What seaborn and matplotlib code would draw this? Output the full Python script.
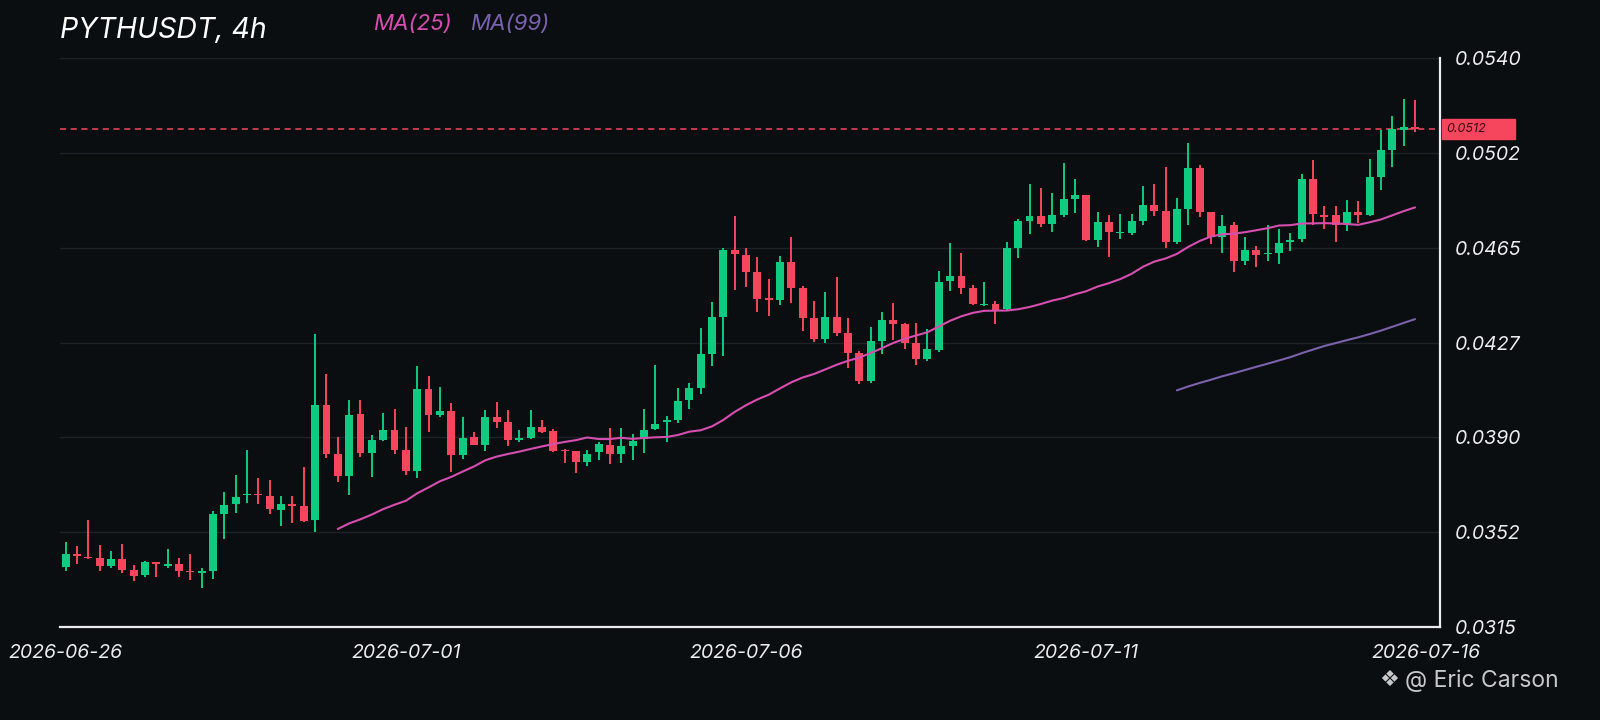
import matplotlib
matplotlib.use("Agg")
import matplotlib.pyplot as plt
from matplotlib.patches import Rectangle
from matplotlib.transforms import blended_transform_factory
import numpy as np
import pandas as pd
import seaborn as sns

# 4h candles, 2026-06-26 00:00 -> 2026-07-15 20:00
opens = [
    .03389, .03441, .03429, .03424, .03393, .03419, .03375, .03357, .03406, .03393,
    .03398, .03372, .03365, .03370, .03596, .03635, .03672, .03676, .03667, .03613,
    .03635, .03628, .03574, .04027, .03835, .03749, .03992, .03839, .03891, .03930,
    .03852, .03768, .04091, .03988, .04003, .03830, .03900, .03872, .03981, .03962,
    .03891, .03897, .03943, .03926, .03852, .03846, .03803, .03842, .03872, .03836,
    .03868, .03894, .03932, .03962, .03967, .04048, .04096, .04229, .04377, .04641,
    .04622, .04555, .04450, .04443, .04593, .04490, .04373, .04288, .04376, .04311,
    .04234, .04124, .04283, .04366, .04350, .04275, .04210, .04247, .04518, .04540,
    .04490, .04422, .04428, .04407, .04647, .04754, .04775, .04745, .04780, .04843,
    .04858, .04680, .04752, .04707, .04710, .04754, .04819, .04797, .04671, .04804,
    .04966, .04791, .04693, .04739, .04598, .04641, .04625, .04628, .04671, .04684,
    .04923, .04780, .04780, .04745, .04793, .04780, .04931, .05035, .05115, .05126]
highs = [
    .03486, .03471, .03574, .03476, .03450, .03480, .03396, .03411, .03408, .03460,
    .03422, .03441, .03385, .03608, .03683, .03751, .03851, .03738, .03732, .03670,
    .03667, .03784, .04307, .04150, .03900, .04046, .04046, .03910, .03998, .04011,
    .03943, .04184, .04143, .04098, .04037, .03981, .03921, .04007, .04040, .04007,
    .03930, .04007, .03969, .03932, .03855, .03846, .03851, .03881, .03936, .03936,
    .03913, .04013, .04186, .03984, .04096, .04117, .04332, .04435, .04648, .04774,
    .04648, .04615, .04525, .04619, .04693, .04499, .04438, .04473, .04534, .04373,
    .04240, .04335, .04395, .04430, .04353, .04353, .04327, .04559, .04667, .04628,
    .04503, .04516, .04440, .04673, .04762, .04901, .04888, .04866, .04986, .04923,
    .04858, .04793, .04780, .04784, .04784, .04895, .04901, .04970, .04845, .05064,
    .04979, .04793, .04778, .04752, .04693, .04658, .04739, .04723, .04710, .04940,
    .04996, .04814, .04814, .04840, .04836, .05002, .05116, .05170, .05240, .05236]
lows = [
    .03370, .03398, .03419, .03370, .03385, .03363, .03334, .03349, .03349, .03383,
    .03347, .03338, .03305, .03341, .03499, .03603, .03641, .03635, .03596, .03551,
    .03561, .03566, .03528, .03817, .03723, .03671, .03822, .03745, .03884, .03835,
    .03753, .03740, .03921, .03981, .03762, .03813, .03869, .03846, .03939, .03865,
    .03882, .03895, .03917, .03842, .03797, .03761, .03787, .03812, .03794, .03799,
    .03810, .03838, .03928, .03881, .03958, .04013, .04070, .04184, .04222, .04483,
    .04493, .04396, .04380, .04425, .04430, .04322, .04279, .04272, .04301, .04175,
    .04111, .04117, .04231, .04285, .04249, .04185, .04201, .04236, .04477, .04466,
    .04425, .04420, .04347, .04400, .04608, .04706, .04732, .04712, .04771, .04788,
    .04676, .04654, .04615, .04684, .04700, .04739, .04775, .04650, .04663, .04741,
    .04771, .04663, .04628, .04554, .04580, .04572, .04598, .04585, .04637, .04673,
    .04739, .04726, .04671, .04715, .04749, .04775, .04879, .04968, .05053, .05106]
closes = [
    .03438, .03432, .03422, .03393, .03419, .03376, .03354, .03406, .03401, .03398,
    .03372, .03367, .03370, .03596, .03631, .03665, .03678, .03671, .03616, .03635,
    .03628, .03570, .04027, .03835, .03749, .03990, .03839, .03891, .03930, .03852,
    .03766, .04091, .03990, .04006, .03830, .03897, .03872, .03981, .03962, .03891,
    .03897, .03943, .03923, .03848, .03847, .03803, .03836, .03874, .03836, .03868,
    .03885, .03928, .03954, .03967, .04044, .04096, .04229, .04377, .04641, .04624,
    .04555, .04448, .04444, .04593, .04490, .04373, .04288, .04376, .04311, .04234,
    .04124, .04283, .04363, .04350, .04275, .04210, .04249, .04516, .04540, .04490,
    .04428, .04428, .04402, .04647, .04754, .04775, .04745, .04780, .04843, .04858,
    .04680, .04752, .04712, .04712, .04754, .04817, .04797, .04673, .04804, .04966,
    .04791, .04693, .04736, .04598, .04641, .04621, .04630, .04667, .04680, .04923,
    .04784, .04771, .04741, .04791, .04780, .04931, .05035, .05118, .05126, .05120]

date_ticks = [0, 30, 60, 90, 120]
date_labels = ["2026-06-26", "2026-07-01", "2026-07-06", "2026-07-11", "2026-07-16"]
price_ticks = [0.0315, 0.03525, 0.0390, 0.04275, 0.0465, 0.05025, 0.0540]
price_labels = ["0.0315", "0.0352", "0.0390", "0.0427", "0.0465", "0.0502", "0.0540"]
last_price = 0.0512

BG = "#0b0e11"
UP = "#0ecb81"
DOWN = "#f6465d"
MA25_C = "#d64fb0"
MA99_C = "#7a62ad"

sns.set_theme(style="dark", rc={"axes.facecolor": BG, "figure.facecolor": BG})
plt.rcParams["font.family"] = ["Inter", "DejaVu Sans"]

df = pd.DataFrame({"open": opens, "high": highs, "low": lows, "close": closes})
df["i"] = np.arange(len(df))
df["up"] = df["close"] >= df["open"]
df["ma25"] = df["close"].rolling(25).mean()
df["ma99"] = df["close"].rolling(99).mean()

fig = plt.figure(figsize=(16, 7.2), dpi=100)
ax = fig.add_axes([0.0375, 0.129, 0.8625, 0.7904])
ax.set_facecolor(BG)

colors = np.where(df["up"], UP, DOWN)
ax.vlines(df["i"], df["low"], df["high"], colors=colors, lw=1.4, zorder=2)
body = (df["close"] - df["open"]).abs().clip(lower=0.00004)
bottom = df[["open", "close"]].min(axis=1)
ax.bar(df["i"], body, bottom=bottom, width=0.7, color=colors, edgecolor=colors,
       linewidth=0, zorder=3)

sns.lineplot(data=df, x="i", y="ma25", ax=ax, color=MA25_C, lw=1.5, zorder=4)
sns.lineplot(data=df, x="i", y="ma99", ax=ax, color=MA99_C, lw=1.5, zorder=4)

ax.axhline(last_price, color=DOWN, lw=1.1, ls=(0, (4, 3)), zorder=1)

ax.set_xlim(-0.5, 121.2)
ax.set_ylim(0.0315, 0.0540)
ax.set_xlabel("")
ax.set_ylabel("")

ax.yaxis.tick_right()
ax.set_yticks(price_ticks)
ax.set_yticklabels(price_labels, color="#eaecef", fontsize=14, fontstyle="italic")
ax.set_xticks(date_ticks)
ax.set_xticklabels(date_labels, color="#eaecef", fontsize=14, fontstyle="italic")
ax.tick_params(axis="y", length=0, pad=10)
ax.tick_params(axis="x", length=0, pad=12)
ax.grid(axis="y", color="#1e2227", lw=1)
ax.grid(axis="x", visible=False)

for s in ["top", "left"]:
    ax.spines[s].set_visible(False)
for s in ["right", "bottom"]:
    ax.spines[s].set_visible(True)
    ax.spines[s].set_color("#eaecef")
    ax.spines[s].set_linewidth(1.6)

# last price tag on the right axis
tr = blended_transform_factory(ax.transAxes, ax.transData)
ax.add_patch(Rectangle((1.0015, last_price - 0.0004), 0.0525, 0.0008, transform=tr,
                       color=DOWN, clip_on=False, zorder=5))
ax.text(1.005, last_price, "0.0512", transform=tr, color="#3a0a10", fontsize=9,
        fontstyle="italic", va="center", ha="left", zorder=6, clip_on=False)

# header
fig.text(0.0375, 0.958, "PYTHUSDT, 4h", color="white", fontsize=20.5, fontstyle="italic", va="center")
fig.text(0.233, 0.966, "MA(25)", color=MA25_C, fontsize=16, fontstyle="italic", va="center")
fig.text(0.294, 0.966, "MA(99)", color=MA99_C, fontsize=16, fontstyle="italic", va="center")

# watermark
fig.text(0.868, 0.055, "\u2756", color="#c8c8c8", fontsize=16, va="center", ha="center",
         family=["DejaVu Sans"])
fig.text(0.974, 0.055, "@ Eric Carson", color="#c8c8c8", fontsize=16.5, va="center", ha="right")

fig.savefig("out.png", dpi=100, facecolor=BG)
